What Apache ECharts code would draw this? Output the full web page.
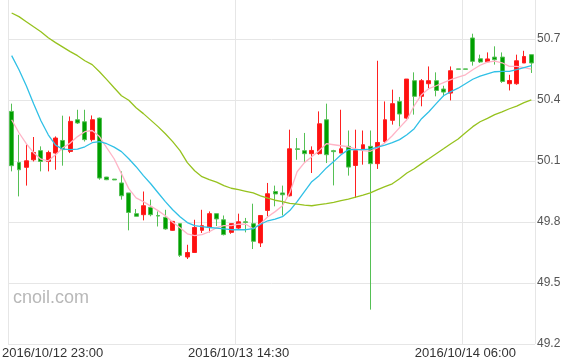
<!DOCTYPE html>
<html><head><meta charset="utf-8">
<script src="https://cdn.jsdelivr.net/npm/echarts@6/dist/echarts.min.js"></script>
<style>html,body{margin:0;padding:0;background:#fff}#c{width:563px;height:361px}</style>
</head><body><div id="c"></div>
<script>
// 30-minute candles starting 2016/10/12 23:00
const startTime = '2016/10/12 23:00';
const candleCount = 72;
const opens  = [50.344,50.093,50.069,50.106,50.151,50.098,50.139,50.201,50.147,50.303,50.293,50.205,50.311,50.021,50.011,49.992,49.943,49.841,49.836,49.872,49.832,49.823,49.759,49.792,49.628,49.650,49.759,49.775,49.841,49.811,49.749,49.770,49.801,49.792,49.697,49.857,49.950,49.943,49.929,50.160,50.151,50.136,50.136,50.303,50.151,50.139,50.172,50.078,50.159,50.172,50.087,50.196,50.300,50.393,50.311,50.495,50.418,50.480,50.495,50.454,50.434,50.553,50.553,50.705,50.603,50.588,50.611,50.611,50.480,50.480,50.582,50.623];
const closes = [50.077,50.057,50.101,50.142,50.098,50.142,50.213,50.156,50.295,50.287,50.205,50.303,50.016,50.008,50.007,49.929,49.847,49.828,49.880,49.836,49.829,49.766,49.803,49.636,49.650,49.773,49.782,49.841,49.815,49.738,49.792,49.801,49.798,49.705,49.832,49.939,49.938,49.934,50.160,50.157,50.136,50.152,50.283,50.131,50.146,50.160,50.070,50.151,50.180,50.087,50.191,50.303,50.382,50.331,50.503,50.418,50.495,50.495,50.447,50.439,50.544,50.551,50.551,50.590,50.587,50.602,50.598,50.491,50.496,50.593,50.614,50.582];
const lows   = [50.049,49.926,49.979,50.098,50.049,50.049,50.057,50.077,50.139,50.282,50.196,50.196,50.008,50.006,50.006,49.910,49.759,49.828,49.808,49.828,49.778,49.762,49.757,49.628,49.618,49.648,49.746,49.749,49.780,49.734,49.742,49.762,49.749,49.667,49.677,49.828,49.877,49.832,49.926,50.106,50.090,50.041,50.131,50.090,49.980,50.139,50.028,49.918,50.082,49.369,50.061,50.189,50.279,50.270,50.307,50.328,50.369,50.459,50.418,50.418,50.398,50.551,50.551,50.569,50.582,50.585,50.574,50.484,50.447,50.475,50.582,50.533];
const highs  = [50.382,50.229,50.180,50.218,50.172,50.151,50.221,50.323,50.319,50.352,50.352,50.324,50.314,50.022,50.012,50.049,49.943,49.864,49.950,49.910,49.852,49.860,49.805,49.792,49.688,49.811,49.860,49.852,49.841,49.832,49.792,49.841,49.820,49.890,49.832,49.992,49.979,49.979,50.254,50.213,50.238,50.172,50.344,50.382,50.155,50.352,50.250,50.254,50.250,50.250,50.593,50.393,50.451,50.415,50.503,50.536,50.503,50.565,50.536,50.470,50.565,50.553,50.553,50.726,50.623,50.634,50.664,50.634,50.524,50.623,50.642,50.623];
const maPink  = [50.303,50.239,50.185,50.141,50.109,50.101,50.131,50.165,50.188,50.220,50.244,50.250,50.220,50.165,50.111,50.038,49.964,49.919,49.900,49.878,49.856,49.831,49.799,49.772,49.742,49.733,49.738,49.752,49.772,49.782,49.782,49.789,49.789,49.767,49.792,49.826,49.851,49.880,49.944,50.047,50.092,50.121,50.151,50.185,50.180,50.175,50.170,50.160,50.151,50.148,50.165,50.190,50.224,50.264,50.303,50.372,50.426,50.456,50.470,50.485,50.500,50.512,50.524,50.549,50.571,50.586,50.591,50.583,50.565,50.565,50.559,50.552];
const maCyan  = [50.618,50.549,50.470,50.382,50.298,50.229,50.178,50.158,50.156,50.158,50.170,50.190,50.195,50.185,50.168,50.146,50.111,50.072,50.028,49.988,49.944,49.900,49.860,49.826,49.797,49.782,49.777,49.773,49.770,49.766,49.762,49.762,49.762,49.767,49.789,49.806,49.814,49.826,49.856,49.900,49.949,49.998,50.028,50.066,50.097,50.131,50.156,50.156,50.156,50.158,50.168,50.178,50.190,50.205,50.229,50.259,50.308,50.342,50.382,50.421,50.441,50.458,50.480,50.502,50.517,50.529,50.539,50.541,50.541,50.549,50.559,50.569];
const maOlive = [50.828,50.810,50.785,50.760,50.736,50.706,50.682,50.660,50.638,50.618,50.593,50.574,50.539,50.500,50.460,50.421,50.399,50.362,50.333,50.301,50.269,50.234,50.195,50.151,50.092,50.052,50.023,50.008,49.996,49.979,49.966,49.959,49.951,49.943,49.929,49.917,49.907,49.900,49.892,49.888,49.883,49.880,49.885,49.890,49.897,49.905,49.912,49.922,49.932,49.943,49.959,49.974,49.988,50.013,50.041,50.062,50.087,50.111,50.136,50.160,50.185,50.208,50.239,50.269,50.293,50.310,50.328,50.342,50.357,50.370,50.387,50.401];
const yTicks = {min: 49.2, max: 51.0, interval: 0.3};

function pad(n){return (n<10?'0':'')+n;}
const categories = [];
(function(){
  const t0 = new Date(2016, 9, 12, 23, 0).getTime();
  for (let i = 0; i < candleCount; i++) {
    const d = new Date(t0 + i * 30 * 60000);
    categories.push(d.getFullYear() + '/' + (d.getMonth()+1) + '/' + d.getDate() + ' ' + pad(d.getHours()) + ':' + pad(d.getMinutes()));
  }
})();
const kData = opens.map((o, i) => [o, closes[i], lows[i], highs[i]]);

const chart = echarts.init(document.getElementById('c'), null, {renderer: 'canvas'});
chart.setOption({
  animation: false,
  backgroundColor: '#fff',
  grid: {left: 8, right: 28, top: -22, bottom: 17, containLabel: false, outerBoundsMode: 'none'},
  xAxis: {
    type: 'category', data: categories, boundaryGap: true,
    axisLine: {show: false}, axisTick: {show: false},
    axisLabel: {
      interval: 30, color: '#333', fontSize: 13, fontFamily: 'Liberation Sans, Arial, sans-serif', margin: 3,
      formatter: (v, i) => i === 0 ? '{f|' + v + '}' : v,
      rich: {f: {padding: [0, 0, 0, 82], fontSize: 13, color: '#333', fontFamily: 'Liberation Sans, Arial, sans-serif'}}
    },
    splitLine: {show: true, interval: 30, lineStyle: {color: '#e6e6e6', width: 1}}
  },
  yAxis: {
    type: 'value', position: 'right', scale: true,
    min: yTicks.min, max: yTicks.max, interval: yTicks.interval,
    axisLine: {show: false}, axisTick: {show: false},
    axisLabel: {color: '#555', fontSize: 12, fontFamily: 'Liberation Sans, Arial, sans-serif', margin: 2, padding: [5, 0, 0, 0],
      formatter: v => v.toFixed(1)},
    splitLine: {lineStyle: {color: '#e6e6e6', width: 1}}
  },
  graphic: [{type: 'text', left: 13, top: 289, style: {text: 'cnoil.com', fill: '#b8b8b8', font: '18px Liberation Sans, Arial, sans-serif'}}],
  series: [
    {type: 'candlestick', data: kData, barWidth: 4.4,
      itemStyle: {color: '#ff1010', color0: '#009f00', borderColor: '#ff2020', borderColor0: '#55c055', borderWidth: 1}},
    {type: 'line', data: maPink, symbol: 'none', lineStyle: {color: '#ffb4c6', width: 1.3}, z: 3},
    {type: 'line', data: maCyan, symbol: 'none', lineStyle: {color: '#30c0e6', width: 1.3}, z: 3},
    {type: 'line', data: maOlive, symbol: 'none', lineStyle: {color: '#96c21e', width: 1.3}, z: 3}
  ]
});
</script></body></html>
